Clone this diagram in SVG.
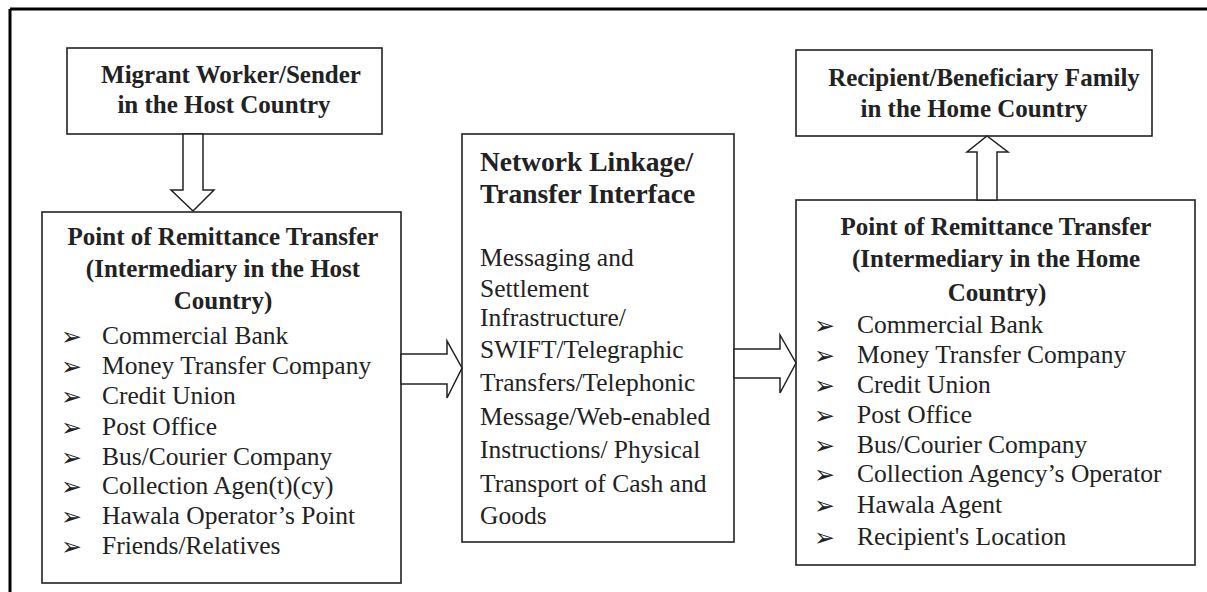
<svg xmlns="http://www.w3.org/2000/svg" width="1207" height="592" viewBox="0 0 1207 592">
<style>
.box{fill:#fff;stroke:#222;stroke-width:1.6}
.arr{fill:#fff;stroke:#222;stroke-width:1.5;stroke-linejoin:miter}
.t{font-family:"Liberation Serif","Times New Roman",serif;fill:#222}
.b{font-weight:bold;font-size:25px;text-anchor:middle}
.nb{font-weight:bold;font-size:27.5px}
.r{font-size:25.5px}
.bl{font-family:"DejaVu Sans",sans-serif;font-size:25px;fill:#222}
</style>
<rect width="1207" height="592" fill="#fff"/>
<g id="frame" fill="none" stroke="#000" stroke-width="3">
<line x1="10" y1="9" x2="1207" y2="9"/>
<line x1="10" y1="9" x2="10" y2="592"/>
</g>
<g id="sender">
<rect class="box" x="67" y="48" width="315" height="86"/>
<text class="t b" x="231" y="83">Migrant Worker/Sender</text>
<text class="t b" x="224" y="113">in the Host Country</text>
</g>
<g id="host">
<rect class="box" x="42" y="212" width="359" height="371"/>
<text class="t b" x="223" y="245">Point of Remittance Transfer</text>
<text class="t b" x="223" y="277">(Intermediary in the Host</text>
<text class="t b" x="223" y="309">Country)</text>
<g class="bl">
<text x="61" y="345">➢</text><text x="61" y="375">➢</text><text x="61" y="405">➢</text><text x="61" y="436">➢</text>
<text x="61" y="466">➢</text><text x="61" y="495">➢</text><text x="61" y="525">➢</text><text x="61" y="555">➢</text>
</g>
<text class="t r" x="102" y="344">Commercial Bank</text>
<text class="t r" x="102" y="374">Money Transfer Company</text>
<text class="t r" x="102" y="404">Credit Union</text>
<text class="t r" x="102" y="435">Post Office</text>
<text class="t r" x="102" y="465">Bus/Courier Company</text>
<text class="t r" x="102" y="494">Collection Agen(t)(cy)</text>
<text class="t r" x="102" y="524">Hawala Operator’s Point</text>
<text class="t r" x="102" y="554">Friends/Relatives</text>
</g>
<g id="network">
<rect class="box" x="462" y="134" width="272" height="408"/>
<text class="t nb" x="480" y="171">Network Linkage/</text>
<text class="t nb" x="480" y="203">Transfer Interface</text>
<text class="t r" x="480" y="266">Messaging and</text>
<text class="t r" x="480" y="297">Settlement</text>
<text class="t r" x="480" y="326">Infrastructure/</text>
<text class="t r" x="480" y="358">SWIFT/Telegraphic</text>
<text class="t r" x="480" y="391">Transfers/Telephonic</text>
<text class="t r" x="480" y="425">Message/Web-enabled</text>
<text class="t r" x="480" y="458">Instructions/ Physical</text>
<text class="t r" x="480" y="492">Transport of Cash and</text>
<text class="t r" x="480" y="524">Goods</text>
</g>
<g id="recipient">
<rect class="box" x="796" y="50" width="356" height="86"/>
<text class="t b" x="984" y="86">Recipient/Beneficiary Family</text>
<text class="t b" x="974" y="117">in the Home Country</text>
</g>
<g id="home">
<rect class="box" x="796" y="200" width="399" height="365"/>
<text class="t b" x="996" y="235">Point of Remittance Transfer</text>
<text class="t b" x="996" y="267">(Intermediary in the Home</text>
<text class="t b" x="997" y="301">Country)</text>
<g class="bl">
<text x="814" y="334">➢</text><text x="814" y="364">➢</text><text x="814" y="394">➢</text><text x="814" y="424">➢</text>
<text x="814" y="454">➢</text><text x="814" y="483">➢</text><text x="814" y="514">➢</text><text x="814" y="546">➢</text>
</g>
<text class="t r" x="857" y="333">Commercial Bank</text>
<text class="t r" x="857" y="363">Money Transfer Company</text>
<text class="t r" x="857" y="393">Credit Union</text>
<text class="t r" x="857" y="423">Post Office</text>
<text class="t r" x="857" y="453">Bus/Courier Company</text>
<text class="t r" x="857" y="482">Collection Agency’s Operator</text>
<text class="t r" x="857" y="513">Hawala Agent</text>
<text class="t r" x="857" y="545">Recipient's Location</text>
</g>
<g id="connectors">
<polygon class="arr" points="183,134 183,190 171,190 193,211 214,190 203,190 203,134"/>
<polygon class="arr" points="401,354 447,354 447,341 462,368 447,398 447,384 401,384"/>
<polygon class="arr" points="734,349 780,349 780,335 796,363 780,393 780,378 734,378"/>
<polygon class="arr" points="977,200 977,152 967,152 987,136 1008,152 997,152 997,200"/>
</g>
</svg>
